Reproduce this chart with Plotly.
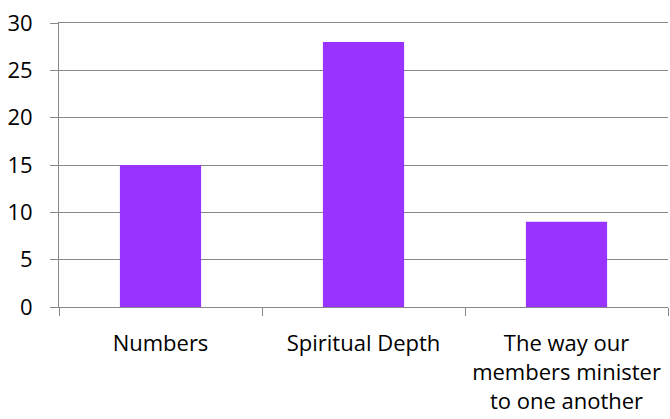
import plotly.graph_objects as go

categories = ["Numbers", "Spiritual Depth", "The way our<br>members minister<br>to one another"]
values = [15, 28, 9]
y_ticks = [0, 5, 10, 15, 20, 25, 30]

fig = go.Figure(go.Bar(x=categories, y=values, marker_color="#9933FF", width=0.4,
                       marker_line_width=0))

fig.update_layout(
    width=670, height=419,
    margin=dict(l=59, r=2, t=23, b=112),
    paper_bgcolor="white", plot_bgcolor="white",
    font=dict(family="Open Sans, Liberation Sans, sans-serif", size=22, color="#000000"),
    showlegend=False,
)
fig.update_xaxes(
    showline=True, mirror=True, linecolor="#888888", linewidth=1, automargin=False,
    ticks="outside", tickson="boundaries", ticklen=8, tickcolor="#888888",
    showgrid=False, ticklabelstandoff=17,
)
fig.update_yaxes(
    range=[0, 30], tickvals=y_ticks, showline=True, linecolor="#888888", linewidth=1,
    ticks="outside", ticklen=8, tickcolor="#888888", automargin=False,
    showgrid=True, gridcolor="#888888", gridwidth=1, zeroline=False,
    ticklabelstandoff=13,
)
fig.write_html(
    "out.html",
    config={"displayModeBar": False},
    post_script="document.body.style.margin='0';document.body.style.padding='0';",
)
